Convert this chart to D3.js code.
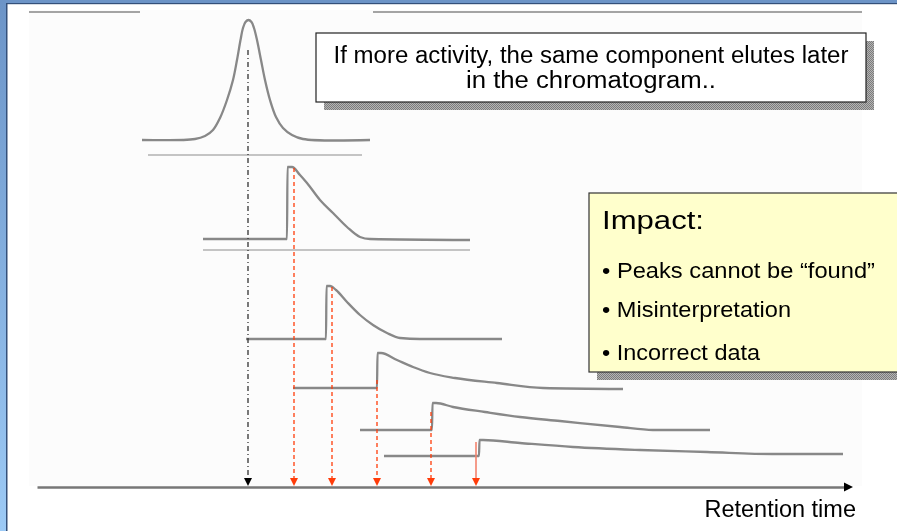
<!DOCTYPE html>
<html>
<head>
<meta charset="utf-8">
<script src="https://cdn.jsdelivr.net/npm/d3@7"></script>
<style>
  body { margin: 0; background: #fff; }
  svg { display: block; }
  text { font-family: "Liberation Sans", Arial, sans-serif; fill: #000; }
</style>
</head>
<body>
<svg id="chart" width="897" height="531"></svg>
<script>
// retention time (axis units) and detector signal for each chromatogram
let trace_normal = [[105,0],[158,1],[168,4],[176,10],[183,22],[190,40],[196,60],[200,80],[203.5,100],[206,112],[208.5,118],[211.5,120],[214.5,118],[217,112],[220,100],[224,80],[228,60],[233,40],[239,23],[246,12],[255,5],[266,1],[333,0]];
let trace_active_1 = [[166,0],[250,0],[250.5,72],[255,72],[263,64],[270,56],[283,39],[296,26],[310,12],[323,2],[333,0],[433,-1]];
let trace_active_2 = [[209,0],[289,0],[289.5,53],[293,53],[299,49],[310,37],[323,24],[336,14],[350,6],[363,1],[383,0],[465,0]];
let trace_active_3 = [[256,0],[340,0],[340.5,35],[344,35],[360,28],[376,21],[393,15],[418,10],[460,5],[506,0],[586,-1]];
let trace_active_4 = [[323,0],[395,0],[395.5,27],[399,27],[416,23],[448,18],[483,13],[523,9],[583,3],[616,0],[673,0]];
let trace_active_5 = [[347,0],[442,0],[442.5,16],[446,16],[483,13],[536,9],[603,6],[670,4],[736,2],[806,2]];

let retention_times = [211, 257, 295, 340, 394, 439];
let axis_label = "Retention time";
let callout_lines = ["If more activity, the same component elutes later", "in the chromatogram.."];
let impact_title = "Impact:";
let impact_items = ["• Peaks cannot be “found”", "• Misinterpretation", "• Incorrect data"];

let svg = d3.select("#chart");

let x = d3.scaleLinear().domain([0, 816]).range([37, 853]);
let y_signal = d3.scaleLinear().domain([0, 120]).range([0, 120]);

let defs = svg.append("defs");
let grad = defs.append("linearGradient")
  .attr("id", "frame_blue")
  .attr("x1", 0).attr("y1", 0).attr("x2", 0).attr("y2", 1);
grad.append("stop").attr("offset", "0%").attr("stop-color", "#6c94c7");
grad.append("stop").attr("offset", "100%").attr("stop-color", "#9ccaf6");

let dither = defs.append("pattern")
  .attr("id", "dither")
  .attr("width", 2).attr("height", 2)
  .attr("patternUnits", "userSpaceOnUse");
dither.append("rect").attr("width", 2).attr("height", 2).attr("fill", "#b4b4b4");
dither.append("rect").attr("width", 1).attr("height", 1).attr("fill", "#7c7c7c");
dither.append("rect").attr("x", 1).attr("y", 1).attr("width", 1).attr("height", 1).attr("fill", "#7c7c7c");

defs.append("filter").attr("id", "soft")
  .append("feGaussianBlur").attr("stdDeviation", 0.5);

// slide frame
svg.append("rect").attr("x", 0).attr("y", 0).attr("width", 6).attr("height", 531).attr("fill", "url(#frame_blue)");
svg.append("rect").attr("x", 6).attr("y", 3).attr("width", 1.5).attr("height", 528).attr("fill", "#34507a");
svg.append("rect").attr("x", 0).attr("y", 0).attr("width", 897).attr("height", 3).attr("fill", "#6c94c7");
svg.append("rect").attr("x", 6).attr("y", 3).attr("width", 891).attr("height", 1.2).attr("fill", "#34507a");

// scanned picture area
svg.append("rect")
  .attr("x", 29).attr("y", 10).attr("width", 833).attr("height", 476)
  .attr("fill", "#fcfcfc");

let rule_lines = [[29, 140, 12], [373, 862, 12], [148, 362, 155], [203, 470, 250]];
svg.append("g")
  .selectAll("line")
  .data(rule_lines)
  .join("line")
  .attr("x1", d => d[0]).attr("x2", d => d[1])
  .attr("y1", d => d[2]).attr("y2", d => d[2])
  .attr("stroke", (d, i) => i < 2 ? "#a4a4a4" : "#c4c4c4")
  .attr("stroke-width", 2);

let traces = [trace_normal, trace_active_1, trace_active_2, trace_active_3, trace_active_4, trace_active_5];
let row_baselines = [140, 239, 339, 388, 430, 456];

let peak_line = d3.line()
  .x(d => x(d[0]))
  .y(d => -y_signal(d[1]))
  .curve(d3.curveCatmullRom.alpha(0.5));

let step_line = d3.line()
  .x(d => x(d[0]))
  .y(d => -y_signal(d[1]))
  .curve(d3.curveMonotoneX);

svg.append("g")
  .attr("filter", "url(#soft)")
  .selectAll("path")
  .data(traces)
  .join("path")
  .attr("transform", (d, i) => "translate(0," + row_baselines[i] + ")")
  .attr("d", (d, i) => i == 0 ? peak_line(d) : step_line(d))
  .attr("fill", "none")
  .attr("stroke", "#888")
  .attr("stroke-width", 2.3)
  .attr("stroke-linejoin", "round");

// axis
let axis_y = 487;
let axis_g = svg.append("g")
  .attr("transform", "translate(0," + axis_y + ")")
  .call(d3.axisBottom(x.copy().domain([0, 808]).range([37, 845])).tickValues([]).tickSizeOuter(0));
axis_g.select(".domain").attr("stroke", "#777").attr("stroke-width", 2.4);

let x_end = x(816);
svg.append("path")
  .attr("d", "M" + x_end + "," + axis_y + "L" + (x_end - 9) + "," + (axis_y - 4.5) + "L" + (x_end - 9) + "," + (axis_y + 4.5) + "Z")
  .attr("fill", "#000");

svg.append("text")
  .attr("x", 856).attr("y", 517)
  .attr("text-anchor", "end")
  .style("font-size", "23.5px")
  .text(axis_label);

// retention markers
let marker_tops = [50, 168, 287, 380, 412, 442];
let markers = svg.append("g")
  .selectAll("g")
  .data(retention_times)
  .join("g");

markers.append("line")
  .attr("x1", d => x(d)).attr("x2", d => x(d))
  .attr("y1", (d, i) => marker_tops[i])
  .attr("y2", axis_y - 8)
  .attr("stroke", (d, i) => i == 0 ? "#333" : (i == 5 ? "#f3826c" : "#ff3c0a"))
  .attr("stroke-width", (d, i) => i == 5 ? 1.6 : 1.3)
  .attr("stroke-dasharray", (d, i) => i == 0 ? "5,3,1,3" : (i == 5 ? null : "4,3"));

markers.append("path")
  .attr("d", d => "M" + (x(d) - 4) + "," + (axis_y - 9) + "L" + (x(d) + 4) + "," + (axis_y - 9) + "L" + x(d) + "," + (axis_y - 1) + "Z")
  .attr("fill", (d, i) => i == 0 ? "#000" : "#ff3c0a");

// callout
let callout = { x: 316, y: 33, w: 550, h: 69 };
svg.append("rect")
  .attr("x", callout.x + 8).attr("y", callout.y + 8)
  .attr("width", callout.w).attr("height", callout.h)
  .attr("fill", "url(#dither)");
svg.append("rect")
  .attr("x", callout.x).attr("y", callout.y)
  .attr("width", callout.w).attr("height", callout.h)
  .attr("fill", "#fff").attr("stroke", "#222").attr("stroke-width", 1.2);
let callout_widths = [515, 250];
svg.append("g")
  .selectAll("text")
  .data(callout_lines)
  .join("text")
  .attr("x", callout.x + callout.w / 2)
  .attr("y", (d, i) => 63 + i * 25)
  .attr("text-anchor", "middle")
  .attr("textLength", (d, i) => callout_widths[i])
  .attr("lengthAdjust", "spacingAndGlyphs")
  .style("font-size", "23.5px")
  .text(d => d);

// impact box
let impact = { x: 589, y: 193, w: 320, h: 179 };
svg.append("rect")
  .attr("x", impact.x + 8).attr("y", impact.y + 8)
  .attr("width", impact.w).attr("height", impact.h)
  .attr("fill", "url(#dither)");
svg.append("rect")
  .attr("x", impact.x).attr("y", impact.y)
  .attr("width", impact.w).attr("height", impact.h)
  .attr("fill", "#ffffcc").attr("stroke", "#333").attr("stroke-width", 1.2);
svg.append("text")
  .attr("x", 602).attr("y", 229)
  .attr("textLength", 102).attr("lengthAdjust", "spacingAndGlyphs")
  .style("font-size", "25px")
  .text(impact_title);

let item_widths = [273, 189, 158];
svg.append("g")
  .selectAll("text")
  .data(impact_items)
  .join("text")
  .attr("x", 602)
  .attr("y", (d, i) => [278, 317, 360][i])
  .attr("textLength", (d, i) => item_widths[i])
  .attr("lengthAdjust", "spacingAndGlyphs")
  .style("font-size", "22.5px")
  .text(d => d);
</script>
</body>
</html>
